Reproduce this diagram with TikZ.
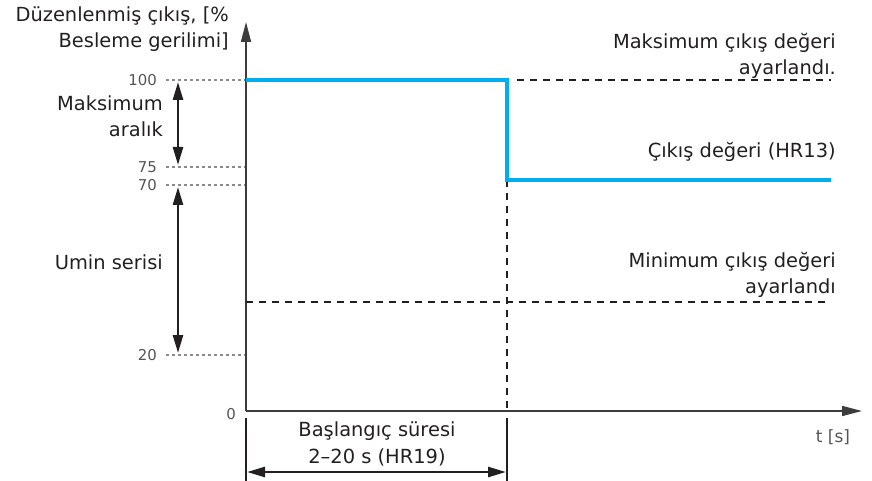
\documentclass[tikz,border=0pt]{standalone}
\usepackage{fontspec}
\setmainfont{DejaVu Sans}
\usepackage{tikz}
\usetikzlibrary{arrows.meta}
\definecolor{ink}{HTML}{231F20}
\definecolor{axisc}{HTML}{3C3C3C}
\definecolor{muted}{HTML}{555555}
\definecolor{dotc}{HTML}{8A8A8A}
\definecolor{sig}{HTML}{00AEEF}
\newcommand{\mainsize}{\fontsize{19.5}{27}\selectfont}
\newcommand{\ticksize}{\fontsize{15}{18}\selectfont}
\tikzset{
  axisline/.style={draw=axisc, line width=1.6pt, -{Triangle[length=20bp,width=10bp]}},
  span/.style={draw=ink, line width=2.6pt, {Triangle[length=18bp,width=10bp]}-{Triangle[length=18bp,width=10bp]}},
  guide/.style={draw=dotc, line width=1.8pt, dash pattern=on 3bp off 3bp},
  limit/.style={draw=ink, line width=1.6pt, dash pattern=on 7bp off 6bp},
  bracket/.style={draw=ink, line width=1.8pt},
  sigline/.style={draw=sig, line width=3.6pt, line join=miter},
  lab/.style={text=ink, font=\mainsize, inner sep=0pt},
  labr/.style={lab, align=right},
  tick/.style={text=muted, font=\ticksize, inner sep=0pt, outer sep=0pt},
}

\begin{document}
\begin{tikzpicture}[x=1bp,y=-1bp]
  \useasboundingbox (0,0) rectangle (872,481);
  \coordinate (O) at (246,411);
  \coordinate (ytop) at (246,22);
  \coordinate (xend) at (862,411);
  \coordinate (s100) at (246,80);
  \coordinate (sdrop) at (507,80);
  \coordinate (slow) at (507,180);
  \coordinate (send) at (831,180);
  \coordinate (max0) at (517,80);
  \coordinate (max1) at (831,80);
  \coordinate (min0) at (246,302);
  \coordinate (min1) at (831,302);
  \coordinate (vbot) at (507,411);

  % tick marks on the left
  \foreach \v/\y in {100/80,75/167,70/185,20/355}{
    \node[tick, anchor=east] (l\v) at (157,\y) {\v};
    \coordinate (g\v) at (166,\y);
    \coordinate (a\v) at (246,\y);
    \draw[guide] (g\v) -- (a\v);
  }
  \node[tick, anchor=base east] (l0) at (236,419) {0};

  % axes
  \draw[axisline] (O) -- (ytop);
  \draw[axisline] (O) -- (xend);

  % limits
  \draw[limit] (max0) -- (max1);
  \draw[limit] (min0) -- (min1);
  \draw[limit] (slow) -- (vbot);

  % output
  \draw[sigline] (s100) -- (sdrop) -- (slow) -- (send);

  % ranges
  \coordinate (r1a) at (178,82);
  \coordinate (r1b) at (178,165);
  \coordinate (r2a) at (178,187);
  \coordinate (r2b) at (178,353);
  \draw[span] (r1a) -- (r1b);
  \draw[span] (r2a) -- (r2b);

  % start time
  \coordinate (b1a) at (246,418);
  \coordinate (b1b) at (246,481);
  \coordinate (b2a) at (507,418);
  \coordinate (b2b) at (507,481);
  \draw[bracket] (b1a) -- (b1b);
  \draw[bracket] (b2a) -- (b2b);
  \coordinate (h1) at (247,472);
  \coordinate (h2) at (506,472);
  \draw[span] (h1) -- (h2);

  % texts (base = last line)
  \node[labr, anchor=base east] (title) at (229,48) {Düzenlenmiş çıkış, [\%\\Besleme gerilimi]};
  \node[labr, anchor=base east] (maxr) at (163,137) {Maksimum\\aralık};
  \node[lab, anchor=base east] (umin) at (163,270) {Umin serisi};
  \node[labr, anchor=base east] (maxset) at (836,75) {Maksimum çıkış değeri\\ayarlandı.};
  \node[lab, anchor=base east] (outval) at (836,158) {Çıkış değeri (HR13)};
  \node[labr, anchor=base east] (minset) at (836,294) {Minimum çıkış değeri\\ayarlandı};
  \node[lab, align=center, anchor=base] (start) at (377,463) {Başlangıç süresi\\2–20 s (HR19)};
  \node[tick, font=\fontsize{17}{20}\selectfont, anchor=base east] (tlab) at (850,442) {t [s]};
\end{tikzpicture}
\end{document}
